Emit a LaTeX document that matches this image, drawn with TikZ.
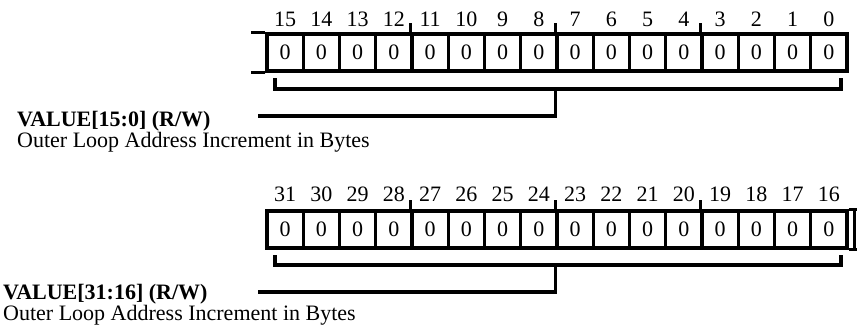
\documentclass[tikz,border=0pt]{standalone}
\usepackage{fontspec}
\setmainfont{Liberation Serif}
\begin{document}
\begin{tikzpicture}[x=1pt,y=-1pt,
  bitcell/.style={draw=black,line width=3.4pt,minimum width=36.25pt,minimum height=37pt,inner sep=0pt,font=\fontsize{22}{24}\selectfont},
  bitnum/.style={inner sep=0pt,font=\fontsize{22}{24}\selectfont},
  regline/.style={line width=3.4pt},
  title/.style={anchor=base west,inner sep=0pt,font=\fontsize{22}{25}\selectfont\bfseries},
  desc/.style={anchor=base west,inner sep=0pt,font=\fontsize{22}{25}\selectfont}]
\useasboundingbox (0,0) rectangle (857,330);
% top register bits 15..0
\foreach \b in {0,...,15}{
  \pgfmathsetmacro{\xc}{267+36.25*(15-\b+0.5)}
  \node[bitcell] (c\b) at (\xc,52.5) {0};
  \node[bitnum] (n\b) at (\xc,19) {\b};
}
% bottom register bits 31..16
\foreach \b in {16,...,31}{
  \pgfmathsetmacro{\xc}{267+36.25*(31-\b+0.5)}
  \node[bitcell] (c\b) at (\xc,229.5) {0};
  \node[bitnum] (n\b) at (\xc,194) {\b};
}
% ticks every 4 bits
\foreach \b in {11,7,3,27,23,19}{
  \draw[regline] (c\b.north west) -- ++(0,-9);
}
% continuation of register
\draw[regline] (c15.north west) -- ++(-14,0);
\draw[regline] (c15.south west) -- ++(-14,0);
\draw[regline] (c16.north east) -- ++(12,0);
\draw[regline] (c16.south east) -- ++(12,0);
\draw[regline] (854.5,211) -- (854.5,248);
% brackets
\coordinate (tbl) at (275,78);
\coordinate (tbr) at (841,78);
\coordinate (tbm) at (c7.south west |- 0,89);
\coordinate (tle) at (258,116);
\draw[regline] (tbl) |- (tbm) -| (tbr);
\draw[regline] (tbm) |- (tle);
\coordinate (bbl) at (275,255);
\coordinate (bbr) at (841,255);
\coordinate (bbm) at (c23.south west |- 0,265);
\coordinate (ble) at (258,292);
\draw[regline] (bbl) |- (bbm) -| (bbr);
\draw[regline] (bbm) |- (ble);
% field descriptions
\node[title] (t1) at (17,126.7) {VALUE[15:0] (R/W)};
\node[desc] (d1) at (17,147.2) {Outer Loop Address Increment in Bytes};
\node[title] (t2) at (3,299) {VALUE[31:16] (R/W)};
\node[desc] (d2) at (3,320) {Outer Loop Address Increment in Bytes};
\end{tikzpicture}
\end{document}
